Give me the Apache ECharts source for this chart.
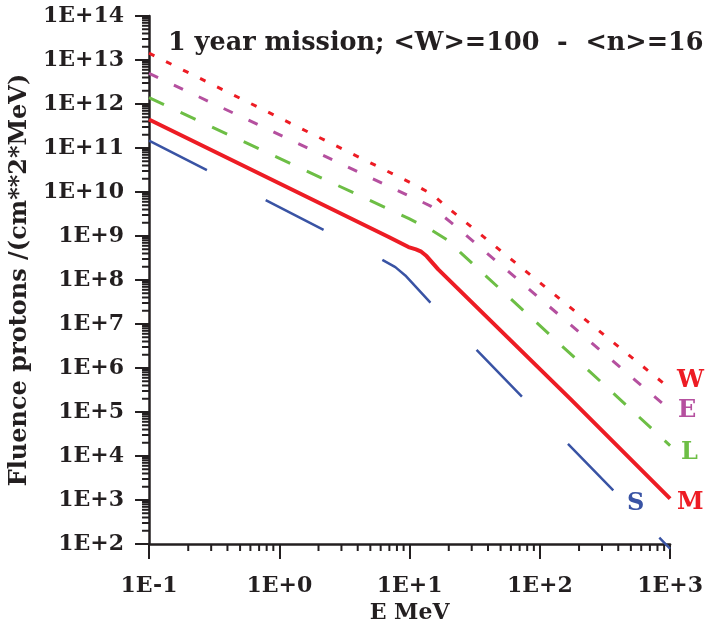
<!DOCTYPE html>
<html>
<head>
<meta charset="utf-8">
<script src="https://cdn.jsdelivr.net/npm/echarts@6/dist/echarts.min.js"></script>
<style>
  html, body { margin: 0; padding: 0; background: #fff; }
  #chart { width: 706px; height: 636px; }
</style>
</head>
<body>
<div id="chart"></div>
<script>
// energy in MeV, fluence in protons/(cm^2*MeV)
const wEnergy = [0.1, 10.9, 14.8, 19.3, 1000];
const wFluence = [1.43e13, 1.47e10, 9.0e9, 4.6e9, 3.4e5];
const eEnergy = [0.1, 14.4, 21, 1000];
const eFluence = [4.98e12, 4.86e9, 1.99e9, 1.11e5];
const lEnergy = [0.1, 10, 14.8, 19.3, 24.4, 1000];
const lFluence = [1.39e12, 2.45e9, 1.35e9, 8.3e8, 4.3e8, 1.73e4];
const mEnergy = [0.1, 6.92, 9.82, 11.2, 12.3, 13.5, 16.6, 173, 1000];
const mFluence = [4.43e11, 9.5e8, 5.6e8, 4.95e8, 4.4e8, 3.5e8, 1.75e8, 1.93e5, 1.07e3];
const sEnergy = [0.1, 6.15, 7.78, 9.27, 14.4, 1000];
const sFluence = [1.47e11, 2.9e8, 1.96e8, 1.27e8, 3.11e7, 78];

// minor ticks of the log axes (2..9 in each decade)
const minorSteps = [2, 3, 4, 5, 6, 7, 8, 9];
const xDecades = [-1, 0, 1, 2];
const yDecades = [2, 3, 4, 5, 6, 7, 8, 9, 10, 11, 12, 13];

const ink = '#231f20';
const font = 'DejaVu Serif';

function pairs(xs, ys) {
    return xs.map((x, i) => [x, ys[i]]);
}

function expLabel(value) {
    let e = Math.round(Math.log10(value));
    return '1E' + (e < 0 ? '-' : '+') + Math.abs(e);
}

let xMinor = [];
xDecades.forEach(d => minorSteps.forEach(m => xMinor.push([m * Math.pow(10, d), 100])));
let yMinor = [];
yDecades.forEach(d => minorSteps.forEach(m => yMinor.push([0.1, m * Math.pow(10, d)])));

function lineSeries(name, data, color, width, dash) {
    return {
        name: name,
        type: 'line',
        data: data,
        symbol: 'none',
        lineStyle: { color: color, width: width, type: dash, cap: 'butt' },
        z: 3
    };
}

const chart = echarts.init(document.getElementById('chart'));
chart.setOption({
    animation: false,
    title: {
        text: '1 year mission; <W>=100  -  <n>=16',
        left: 168,
        top: 30,
        padding: 0,
        textStyle: { fontFamily: font, fontSize: 25.5, fontWeight: 'bold', color: ink }
    },
    grid: { left: 149, right: 31, top: 16, bottom: 92 },
    xAxis: {
        type: 'log',
        logBase: 10,
        min: 0.1,
        max: 1000,
        interval: 1,
        splitNumber: 4,
        name: 'E MeV',
        nameLocation: 'middle',
        nameGap: 48,
        nameTextStyle: { fontFamily: font, fontSize: 22, fontWeight: 'bold', color: ink },
        axisLine: { lineStyle: { color: ink, width: 2.5 } },
        axisTick: { length: 15, lineStyle: { color: ink, width: 2 } },
        axisLabel: { margin: 31, formatter: expLabel, fontFamily: font, fontSize: 22, fontWeight: 'bold', color: ink },
        splitLine: { show: false }
    },
    yAxis: {
        type: 'log',
        logBase: 10,
        min: 100,
        max: 1e14,
        interval: 1,
        splitNumber: 12,
        name: 'Fluence protons /(cm**2*MeV)',
        nameLocation: 'middle',
        nameGap: 106,
        nameTextStyle: { fontFamily: font, fontSize: 24, fontWeight: 'bold', color: ink },
        axisLine: { lineStyle: { color: ink, width: 2.5 } },
        axisTick: { length: 14, lineStyle: { color: ink, width: 2 } },
        axisLabel: { margin: 25, formatter: expLabel, fontFamily: font, fontSize: 22, fontWeight: 'bold', color: ink },
        splitLine: { show: false }
    },
    series: [
        lineSeries('W', pairs(wEnergy, wFluence), '#ed1c24', 3, [6, 13]),
        lineSeries('E', pairs(eEnergy, eFluence), '#b5509f', 3, [10, 17.5]),
        lineSeries('L', pairs(lEnergy, lFluence), '#6dbe45', 3, [16.5, 18.3]),
        lineSeries('M', pairs(mEnergy, mFluence), '#ed1c24', 4, 'solid'),
        Object.assign(lineSeries('S', pairs(sEnergy, sFluence), '#3953a4', 2.5, [65, 66]), { clip: false }),
        {
            type: 'custom',
            silent: true,
            data: xMinor,
            renderItem: function (params, api) {
                let p = api.coord([api.value(0), api.value(1)]);
                return {
                    type: 'line',
                    shape: { x1: p[0], y1: p[1], x2: p[0], y2: p[1] + 7 },
                    style: { stroke: ink, lineWidth: 2 }
                };
            }
        },
        {
            type: 'custom',
            silent: true,
            data: yMinor,
            renderItem: function (params, api) {
                let p = api.coord([api.value(0), api.value(1)]);
                return {
                    type: 'line',
                    shape: { x1: p[0] - 7, y1: p[1], x2: p[0], y2: p[1] },
                    style: { stroke: ink, lineWidth: 2 }
                };
            }
        }
    ],
    graphic: [
        { type: 'text', left: 677, top: 369, style: { text: 'W', fill: '#ed1c24', font: 'bold 24px "DejaVu Serif"' } },
        { type: 'text', left: 678, top: 399, style: { text: 'E', fill: '#b5509f', font: 'bold 24px "DejaVu Serif"' } },
        { type: 'text', left: 681, top: 441, style: { text: 'L', fill: '#6dbe45', font: 'bold 24px "DejaVu Serif"' } },
        { type: 'text', left: 677, top: 491, style: { text: 'M', fill: '#ed1c24', font: 'bold 24px "DejaVu Serif"' } },
        { type: 'text', left: 627, top: 492, style: { text: 'S', fill: '#3953a4', font: 'bold 24px "DejaVu Serif"' } }
    ]
});
</script>
</body>
</html>
